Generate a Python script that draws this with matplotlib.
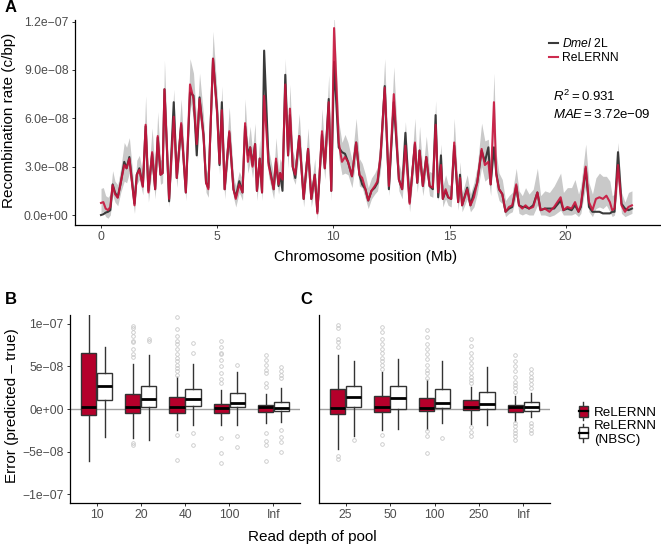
import numpy as np
import matplotlib
matplotlib.use("Agg")
import matplotlib.pyplot as plt
from matplotlib.patches import Patch, Rectangle
from matplotlib.lines import Line2D
from matplotlib.legend_handler import HandlerBase

plt.rcParams['font.family'] = ['Liberation Sans', 'DejaVu Sans']
plt.rcParams['mathtext.fontset'] = 'custom'
plt.rcParams['mathtext.rm'] = 'Liberation Sans'
plt.rcParams['mathtext.it'] = 'Liberation Sans:italic'

# ---- panel A : recombination map (values in 1e-8 c/bp) ----
pos_mb = [0.0, 0.1, 0.2, 0.3, 0.4, 0.5, 0.6, 0.72, 0.85, 1.0, 1.1, 1.22, 1.44, 1.54, 1.65, 1.8, 1.92,
          2.04, 2.2, 2.33, 2.44, 2.56, 2.65, 2.73, 2.93, 3.13, 3.26, 3.45, 3.65, 3.83, 3.98, 4.12, 4.24,
          4.41, 4.52, 4.62, 4.82, 5.0, 5.1, 5.2, 5.32, 5.52, 5.7, 5.8, 5.95, 6.09, 6.2, 6.32, 6.42,
          6.52, 6.63, 6.71, 6.83, 6.93, 7.02, 7.21, 7.43, 7.53, 7.64, 7.71, 7.81, 7.93, 8.05, 8.13,
          8.25, 8.36, 8.53, 8.72, 8.91, 9.05, 9.2, 9.31, 9.51, 9.63, 9.8, 9.91, 10.03, 10.23, 10.37,
          10.5, 10.63, 10.8, 10.98, 11.12, 11.24, 11.38, 11.5, 11.64, 11.78, 11.9, 12.03, 12.21, 12.39,
          12.6, 12.82, 12.96, 13.1, 13.28, 13.51, 13.61, 13.71, 13.85, 14.0, 14.14, 14.28, 14.4, 14.51,
          14.63, 14.71, 14.83, 14.94, 15.07, 15.2, 15.37, 15.45, 15.54, 15.76, 15.9, 16.05, 16.19,
          16.38, 16.52, 16.67, 16.77, 16.91, 17.01, 17.13, 17.27, 17.41, 17.56, 17.7, 17.87, 17.99,
          18.13, 18.27, 18.42, 18.6, 18.78, 18.92, 19.1, 19.3, 19.5, 19.78, 19.9, 20.07, 20.25, 20.4,
          20.55, 20.65, 20.86, 21.0, 21.15, 21.3, 21.45, 21.6, 21.75, 21.9, 22.0, 22.1, 22.25, 22.4,
          22.55, 22.7, 22.85]
relernn = [0.75, 0.8, 0.4, 0.3, 0.5, 1.85, 1.3, 1.07, 2.0, 3.1, 2.9, 3.5, 0.6, 2.5, 2.8, 1.75, 5.6,
           1.4, 3.9, 1.6, 4.9, 2.5, 2.6, 7.8, 1.0, 6.1, 2.3, 5.7, 1.4, 8.1, 7.2, 4.4, 7.2,
           4.9, 2.0, 1.6, 9.7, 6.2, 3.2, 6.5, 1.6, 5.2, 1.6, 1.0, 1.9, 1.4, 5.7, 3.3, 4.2,
           3.0, 4.4, 1.5, 3.5, 1.4, 7.4, 3.1, 1.6, 3.5, 1.9, 2.6, 2.2, 8.1, 3.7, 6.6,
           3.0, 2.5, 4.9, 1.0, 4.1, 1.0, 2.5, 0.1, 5.2, 2.9, 7.0, 1.5, 11.6, 4.5, 3.3,
           3.6, 3.3, 2.4, 4.5, 2.5, 2.3, 1.6, 0.9, 1.5, 1.8, 2.1, 3.7, 7.9, 1.8,
           7.5, 2.2, 1.6, 4.3, 0.7, 4.5, 2.0, 4.0, 1.8, 3.6, 1.8, 1.7, 5.6, 1.4,
           3.1, 1.0, 1.6, 1.1, 1.0, 4.5, 0.8, 2.3, 0.6, 1.6, 0.6, 1.1, 2.0,
           4.1, 3.1, 3.3, 1.9, 7.0, 2.5, 1.6, 1.3, 0.2, 0.5, 0.6, 1.9, 0.6,
           0.4, 0.6, 0.4, 0.5, 1.4, 0.3, 0.4, 0.2, 0.5, 1.1, 0.3, 0.5, 0.4, 0.8,
           0.2, 0.6, 3.0, 0.8, 0.3, 1.0, 1.1, 1.0, 1.2, 0.8, 0.3, 0.4, 3.1, 0.6,
           0.2, 0.5, 0.6]
dmel = [0.0, 0.05, 0.15, 0.2, 0.3, 1.9, 1.4, 1.1, 2.0, 3.3, 2.9, 3.6, 0.7, 2.5, 2.9, 1.8, 5.5,
        1.5, 3.8, 1.6, 4.8, 2.5, 2.6, 7.8, 0.85, 7.0, 2.3, 5.6, 1.4, 7.6, 7.4, 3.7, 7.3,
        5.0, 2.0, 1.7, 9.7, 6.4, 3.1, 7.0, 1.6, 5.1, 1.6, 1.1, 2.1, 1.4, 5.5, 3.7, 4.2,
        3.1, 4.4, 1.5, 3.5, 1.4, 10.2, 3.3, 1.6, 3.3, 1.8, 2.6, 1.5, 8.7, 3.7, 6.2,
        3.0, 2.3, 4.9, 1.0, 4.1, 1.0, 2.5, 0.2, 5.0, 2.9, 7.2, 1.5, 9.5, 4.2, 3.9,
        3.8, 3.3, 2.4, 4.5, 2.5, 1.9, 1.6, 0.9, 1.5, 1.7, 2.0, 3.6, 8.0, 1.6,
        7.0, 2.2, 1.6, 5.1, 0.8, 4.4, 2.0, 4.0, 1.8, 3.6, 1.8, 1.6, 6.2, 1.1,
        3.7, 1.0, 1.5, 1.1, 1.0, 4.3, 0.8, 2.5, 0.6, 1.7, 0.6, 1.4, 2.0,
        4.0, 3.3, 4.2, 1.9, 4.2, 2.6, 1.6, 1.3, 0.2, 0.4, 0.5, 1.8, 0.6,
        0.5, 0.5, 0.4, 0.6, 1.4, 0.3, 0.4, 0.4, 0.4, 0.9, 0.3, 0.4, 0.3, 0.6,
        0.2, 0.5, 2.9, 0.5, 0.2, 0.2, 0.2, 0.1, 0.1, 0.1, 0.2, 0.2, 3.9, 0.7,
        0.4, 0.3, 0.4]
ci_lo = [0.6, 0.6, 0.5, 0.5, 0.5, 0.6, 0.5, 0.5, 0.6, 1.0, 0.9, 0.9, 0.5, 0.6, 0.6, 0.5, 1.2,
         0.6, 1.0, 0.6, 1.0, 0.6, 0.6, 1.3, 0.5, 1.2, 0.6, 1.0, 0.5, 1.1, 1.1, 0.9, 1.1,
         0.9, 0.6, 0.5, 1.2, 0.9, 0.7, 1.0, 0.6, 1.0, 0.5, 0.5, 0.5, 0.5, 1.0, 0.7, 0.9,
         0.7, 0.9, 0.6, 0.8, 0.5, 1.1, 0.7, 0.6, 0.9, 0.6, 0.6, 0.6, 1.1, 0.8, 1.0,
         0.7, 0.6, 1.0, 0.5, 0.9, 0.5, 0.7, 0.4, 1.0, 0.7, 1.2, 0.6, 1.0, 0.9, 0.8,
         1.0, 0.8, 0.7, 1.0, 0.7, 0.6, 0.6, 0.5, 0.5, 0.5, 0.6, 0.9, 1.3, 0.6,
         1.2, 0.7, 0.6, 1.0, 0.5, 1.0, 0.6, 1.0, 0.6, 0.9, 0.6, 0.6, 1.0, 0.5,
         0.9, 0.5, 0.6, 0.5, 0.5, 1.0, 0.5, 0.7, 0.4, 0.6, 0.4, 0.6, 0.7,
         1.1, 1.0, 1.0, 0.7, 1.3, 0.9, 0.7, 0.6, 0.3, 0.4, 0.4, 0.7, 0.5,
         0.4, 0.5, 0.4, 0.5, 0.8, 0.3, 0.4, 0.3, 0.5, 0.8, 0.3, 0.5, 0.4, 0.7,
         0.3, 0.5, 1.2, 0.6, 0.4, 0.6, 0.6, 0.6, 0.6, 0.6, 0.4, 0.4, 1.0, 0.5,
         0.3, 0.5, 0.5]
ci_hi = [0.9, 0.9, 0.8, 0.8, 0.8, 0.9, 0.8, 0.8, 0.9, 1.4, 1.3, 1.3, 0.8, 0.9, 0.9, 0.8, 1.8,
         0.9, 1.5, 0.9, 1.5, 0.9, 0.9, 1.8, 0.8, 1.7, 0.9, 1.5, 0.8, 1.6, 1.6, 1.3, 1.6,
         1.3, 0.9, 0.8, 1.7, 1.3, 1.0, 1.5, 0.9, 1.5, 0.8, 0.8, 0.8, 0.8, 1.5, 1.0, 1.3,
         1.0, 1.3, 0.9, 1.2, 0.8, 1.6, 1.0, 0.9, 1.3, 0.9, 0.9, 0.9, 1.6, 1.2, 1.5,
         1.0, 0.9, 1.4, 0.8, 1.3, 0.8, 1.0, 0.7, 1.4, 1.0, 1.7, 0.9, 1.0, 1.3, 1.2,
         1.4, 1.2, 1.0, 1.5, 1.0, 0.9, 0.9, 0.8, 0.8, 0.8, 0.9, 1.3, 1.8, 0.9,
         1.7, 1.0, 0.9, 1.5, 0.8, 1.5, 0.9, 1.5, 0.9, 1.3, 0.9, 0.9, 1.5, 0.8,
         1.3, 0.8, 0.9, 0.8, 0.8, 1.5, 0.8, 1.0, 0.7, 0.9, 0.7, 0.9, 1.0,
         1.6, 1.5, 1.4, 1.0, 1.8, 1.3, 1.0, 0.9, 0.7, 0.7, 0.8, 1.0, 0.9,
         0.8, 1.1, 0.9, 1.1, 1.5, 0.9, 1.1, 1.2, 1.3, 1.5, 1.1, 1.2, 1.3, 1.4,
         1.1, 1.2, 1.4, 1.2, 1.0, 1.3, 1.5, 1.4, 1.2, 1.3, 0.9, 0.9, 1.4, 0.8,
         0.6, 0.9, 0.9]

# ---- panels B / C : error boxplots (values in 1e-8) ----
depth_b = ["10", "20", "40", "100", "Inf"]
depth_c = ["25", "50", "100", "250", "Inf"]

b_red_q1 = [-0.66, -0.43, -0.43, -0.43, -0.40]
b_red_med = [0.27, 0.2, 0.2, 0.08, 0.27]
b_red_q3 = [6.5, 1.8, 1.36, 0.58, 0.5]
b_red_lo = [-6.1, -3.4, -2.45, -1.87, -1.67]
b_red_hi = [11.5, 5.25, 3.7, 2.2, 1.75]
b_red_fl = [[], [6.1, 6.4, 7.0, 7.8, 8.0, 8.6, 9.0, 9.5, 9.7, -4.0, -4.2],
            [4.0, 4.4, 4.8, 5.2, 5.6, 6.0, 6.4, 7.0, 7.6, 8.0, 8.6, 9.4, 10.8, -3.1, -6.0],
            [3.0, 3.5, 4.2, 5.0, 5.7, 6.4, 6.5, 7.2, 8.0, -3.4, -5.2, -6.3],
            [2.6, 3.0, 4.2, 4.6, 5.2, 5.7, 6.3, -2.8, -3.7, -4.2, -6.1]]
b_wht_q1 = [1.05, 0.2, 0.35, 0.2, -0.23]
b_wht_med = [2.7, 1.13, 1.13, 0.74, 0.08]
b_wht_q3 = [4.16, 2.7, 2.3, 1.9, 0.86]
b_wht_lo = [-3.3, -3.6, -1.9, -1.87, -1.48]
b_wht_hi = [7.2, 6.3, 5.25, 4.36, 2.4]
b_wht_fl = [[], [8.0, 8.2], [6.6, 7.7, -2.8, -4.2], [5.1, -3.2, -4.4],
            [3.6, 4.0, 4.4, 4.9, -2.45, -3.3, -3.9, -5.0]]

c_red_q1 = [-0.58, -0.3, -0.23, -0.12, -0.35]
c_red_med = [0.08, 0.2, 0.16, 0.27, 0.2]
c_red_q3 = [2.3, 1.56, 1.25, 1.05, 0.43]
c_red_lo = [-4.7, -2.45, -2.3, -1.75, -1.36]
c_red_hi = [6.3, 4.36, 3.4, 2.6, 1.5]
c_red_fl = [[7.3, 7.8, 8.2, 9.5, 9.8, -5.5, -5.9],
            [4.7, 5.2, 5.6, 6.0, 6.5, 7.0, 7.6, 8.2, 9.0, 9.6, -3.1, -4.1],
            [3.6, 4.2, 4.6, 5.2, 5.8, 6.4, 7.0, 7.6, 8.4, 9.2, -2.6, -3.2, -5.2],
            [3.0, 3.4, 3.8, 4.2, 4.8, 5.4, 6.0, 6.6, 7.4, 8.2, -2.1, -2.7, -3.2],
            [2.0, 2.4, 2.8, 3.2, 3.8, 4.4, 5.0, 5.6, 6.3, -1.6, -2.0, -2.4, -2.8, -3.2, -3.6]]
c_wht_q1 = [0.27, 0.0, 0.08, -0.04, -0.2]
c_wht_med = [1.36, 1.25, 0.74, 0.58, 0.2]
c_wht_q3 = [2.7, 2.65, 2.3, 2.0, 0.86]
c_wht_lo = [-3.2, -2.3, -1.67, -1.87, -0.9]
c_wht_hi = [5.6, 5.8, 5.6, 4.9, 1.9]
c_wht_fl = [[-3.6], [], [-3.4], [], [2.4, 2.9, 3.4, 3.8, 4.2, 4.7, -1.67, -2.0, -2.4, -2.8]]

RED = "#B5002B"
LINE_RED = "#C8143C"
DARK = "#333333"
TICKLAB = "#4D4D4D"
S = 1e-8

W, H = 661, 549
fig = plt.figure(figsize=(W / 100, H / 100), dpi=100)


def px_axes(l, t, r, b):
    return fig.add_axes([l / W, 1 - b / H, (r - l) / W, (b - t) / H])


def classic(ax):
    for s in ["top", "right"]:
        ax.spines[s].set_visible(False)
    for s in ["left", "bottom"]:
        ax.spines[s].set_linewidth(0.9)
        ax.spines[s].set_color("black")
    ax.tick_params(length=2.5, width=0.7, color=DARK, labelcolor=TICKLAB,
                   labelsize=8.7, pad=2)


# ---------------- A ----------------
axA = px_axes(75, 20, 661, 225)
classic(axA)
x = np.array(pos_mb)
r = np.array(relernn) * S
d = np.array(dmel) * S
axA.fill_between(x, r - np.array(ci_lo) * S, r + np.array(ci_hi) * S, color="#C9C9C9", lw=0)
axA.plot(x, d, color="#3A3A3A", lw=1.5, label="$\\mathit{Dmel}$ 2L")
axA.plot(x, r, color=LINE_RED, lw=1.5, alpha=0.9, label="ReLERNN")
axA.set_xlim(-1.12, 24.1)
axA.set_ylim(-0.62 * S, 12.1 * S)
axA.set_xticks([0, 5, 10, 15, 20])
yt = [0, 3e-8, 6e-8, 9e-8, 1.2e-7]
axA.set_yticks(yt)
axA.set_yticklabels(["0.0e+00", "3.0e\u221208", "6.0e\u221208", "9.0e\u221208", "1.2e\u221207"])
axA.legend(loc="upper left", bbox_to_anchor=(543 / W, 1 - 31 / H), bbox_transform=fig.transFigure,
           frameon=False, fontsize=8.7, handlelength=0.7, handletextpad=0.4,
           labelspacing=0.15, borderpad=0)
fig.text(553 / W, 1 - 96 / H, "$R^2 = 0.931$", fontsize=9.5, va="center")
fig.text(553 / W, 1 - 114 / H, "$\\mathit{MAE} = \\mathrm{3.72e{-}09}$", fontsize=9.5, va="center")
fig.text(366 / W, 1 - 257 / H, "Chromosome position (Mb)", fontsize=11, ha="center", va="center")
fig.text(9 / W, 1 - 120 / H, "Recombination rate (c/bp)", fontsize=11, ha="center", va="center",
         rotation=90)


# ---------------- B / C ----------------
def stats(q1, med, q3, lo, hi, fl):
    out = []
    for i in range(len(q1)):
        out.append(dict(q1=q1[i] * S, med=med[i] * S, q3=q3[i] * S, whislo=lo[i] * S,
                        whishi=hi[i] * S, fliers=np.array(fl[i]) * S))
    return out


def draw_boxes(ax, st, positions, fc):
    ax.bxp(st, positions=positions, widths=0.345, patch_artist=True, showcaps=False,
           boxprops=dict(facecolor=fc, edgecolor=DARK, linewidth=1.0),
           medianprops=dict(color="black", linewidth=2.0, solid_capstyle="butt"),
           whiskerprops=dict(color=DARK, linewidth=1.0),
           flierprops=dict(marker="o", markersize=2.6, markerfacecolor="none",
                           markeredgecolor="#C8C8C8", markeredgewidth=0.6),
           zorder=3)


def box_panel(ax, labels, red_st, wht_st):
    classic(ax)
    n = np.arange(1, len(labels) + 1)
    ax.axhline(0, color="#A0A0A0", lw=1.0, zorder=1)
    draw_boxes(ax, red_st, n - 0.18, RED)
    draw_boxes(ax, wht_st, n + 0.18, "white")
    ax.set_xlim(0.4, 5.6)
    ax.set_ylim(-1.1e-7, 1.1e-7)
    ax.set_xticks(n)
    ax.set_xticklabels(labels)
    ax.set_yticks([-1e-7, -5e-8, 0, 5e-8, 1e-7])


axB = px_axes(70, 315, 300, 503)
box_panel(axB, depth_b,
          stats(b_red_q1, b_red_med, b_red_q3, b_red_lo, b_red_hi, b_red_fl),
          stats(b_wht_q1, b_wht_med, b_wht_q3, b_wht_lo, b_wht_hi, b_wht_fl))
axB.set_yticklabels(["\u22121e\u221207", "\u22125e\u221208", "0e+00", "5e\u221208", "1e\u221207"])

axC = px_axes(319, 315, 550, 503)
box_panel(axC, depth_c,
          stats(c_red_q1, c_red_med, c_red_q3, c_red_lo, c_red_hi, c_red_fl),
          stats(c_wht_q1, c_wht_med, c_wht_q3, c_wht_lo, c_wht_hi, c_wht_fl))
axC.tick_params(axis="y", length=0, labelleft=False)

fig.text(12 / W, 1 - 406 / H, "Error (predicted \u2013 true)", fontsize=11, ha="center",
         va="center", rotation=90)
fig.text(312 / W, 1 - 537 / H, "Read depth of pool", fontsize=11, ha="center", va="center")


class BoxKey(HandlerBase):
    def create_artists(self, legend, orig_handle, xd, yd, w, h, fontsize, trans):
        x0, y0 = -xd, -yd
        cx = x0 + w / 2
        fc = orig_handle.get_facecolor()
        whisk = Line2D([cx, cx], [y0 - 0.3 * h, y0 + 1.3 * h], color=DARK, lw=1.0,
                       transform=trans)
        box = Rectangle((x0 + 0.1 * w, y0), 0.8 * w, h, facecolor=fc, edgecolor=DARK,
                        lw=1.0, transform=trans)
        med = Line2D([x0 + 0.1 * w, x0 + 0.9 * w], [y0 + h / 2, y0 + h / 2], color="black",
                     lw=1.6, transform=trans)
        return [whisk, box, med]


fig.legend(handles=[Patch(facecolor=RED), Patch(facecolor="white")],
           labels=["ReLERNN", "ReLERNN\n(NBSC)"], handler_map={Patch: BoxKey()},
           loc="upper left", bbox_to_anchor=(571 / W, 1 - 399 / H), frameon=False,
           fontsize=9.6, handlelength=0.85, handleheight=0.9, handletextpad=0.35,
           labelspacing=0.1, borderpad=0)

fig.text(5 / W, 1 - 8 / H, "A", fontsize=12, fontweight="bold", va="center")
fig.text(5 / W, 1 - 300 / H, "B", fontsize=12, fontweight="bold", va="center")
fig.text(300 / W, 1 - 300 / H, "C", fontsize=12, fontweight="bold", va="center")

fig.savefig("out.png", dpi=100)
